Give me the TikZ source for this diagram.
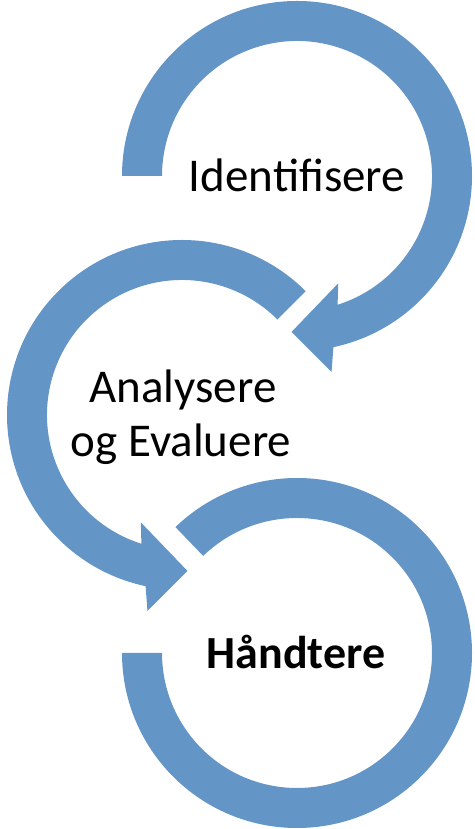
\documentclass[tikz,border=0pt]{standalone}
\usepackage{fontspec}
\setmainfont{Carlito}
\usepackage{tikz}
\definecolor{arrowcolor}{RGB}{99,149,198}

\tikzset{
  arrowband/.style={fill=arrowcolor},
  phasetext/.style={anchor=base, inner sep=0pt, font=\fontsize{47}{54}\selectfont}
}

\begin{document}
\begin{tikzpicture}[x=1pt,y=1pt]
        \useasboundingbox (0,0) rectangle (474,829);
        % centres of the three rings
        \coordinate (ctop) at (297,653);
        \coordinate (cmid) at (182,414);
        \coordinate (cbot) at (297,176);

        % top ring, clockwise with head at the bottom
        \begin{scope}[shift={(ctop)}]
            \fill[arrowband] (180:175) arc[start angle=180, end angle=-78, radius=175pt]
                -- (-80:199) -- (-92:156) -- (-69:115)
                -- (-72.5:135) arc[start angle=-72.5, end angle=180, radius=135pt] -- cycle;
        \end{scope}

        % middle ring, counter clockwise
        \begin{scope}[shift={(cmid)}]
            \fill[arrowband] (45:175) arc[start angle=45, end angle=258, radius=175pt]
                -- (260:199) -- (272:156) -- (249:115)
                -- (252.5:135) arc[start angle=252.5, end angle=45, radius=135pt] -- cycle;
        \end{scope}

        % bottom ring, no head
        \begin{scope}[shift={(cbot)}]
            \fill[arrowband] (180:175) arc[start angle=180, end angle=494, radius=175pt]
                -- (494:135) arc[start angle=494, end angle=180, radius=135pt] -- cycle;
        \end{scope}

        \node[phasetext] (ident) at (297,637) {Identifisere};
        \node[phasetext] (analys) at (183,426) {Analysere};
        \node[phasetext] (evalu) at (181,372) {og Evaluere};
        \node[phasetext, font=\fontsize{46}{54}\selectfont\bfseries] (handt) at (296,160) {Håndtere};
\end{tikzpicture}
\end{document}
